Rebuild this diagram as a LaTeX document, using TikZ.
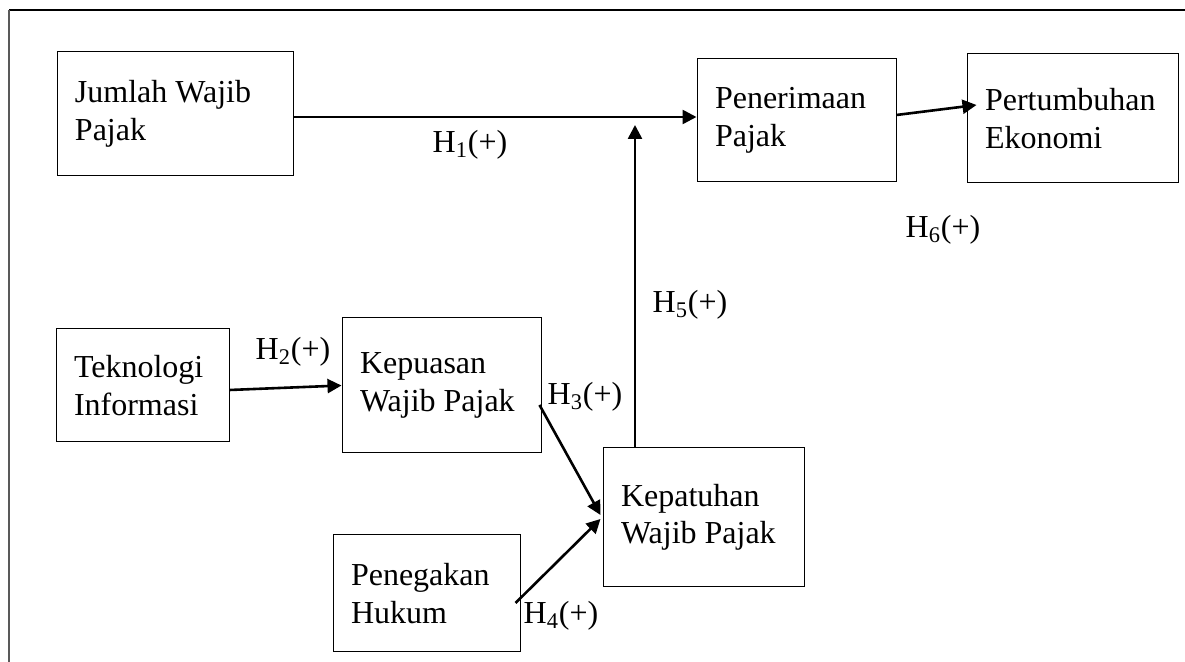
\documentclass[tikz,border=0pt]{standalone}
\usepackage{fontspec}
\setmainfont{Liberation Serif}
\usepackage{tikz}
\usetikzlibrary{calc, positioning, arrows.meta}

\begin{document}
\begin{tikzpicture}[
    x=0.5pt, y=-0.5pt,
    font=\fontsize{16pt}{18.75pt}\selectfont,
    varbox/.style={draw=black, line width=0.5pt, rectangle, align=flush left, inner xsep=9pt, inner ysep=0pt},
    hlabel/.style={inner sep=0pt},
    arrow/.style={-{Triangle[length=7pt, width=7pt]}, line width=1.3pt, draw=black}
]
\useasboundingbox (0,0) rectangle (1185,662);
\draw[line width=0.7pt] (1185,10) -- (9,10);
\draw[line width=1pt, black!65] (9,10) -- (9,662);

\node[varbox, text width=100pt, minimum height=62pt] (jumlah) at (175,114) {Jumlah Wajib\\ Pajak};
\node[varbox, text width=81.5pt, minimum height=61.5pt] (terima) at (796.5,120.5) {Penerimaan\\ Pajak};
\node[varbox, text width=87.5pt, minimum height=64.5pt] (tumbuh) at (1072.5,118.5) {Pertumbuhan\\ Ekonomi};
\node[varbox, text width=68.5pt, minimum height=56.5pt] (tekno) at (142.5,385.5) {Teknologi\\ Informasi};
\node[varbox, text width=81.5pt, minimum height=67.5pt] (puas) at (441.5,385.5) {Kepuasan\\ Wajib Pajak};
\node[varbox, text width=82.5pt, minimum height=69.5pt] (patuh) at (703.5,517.5) {Kepatuhan\\ Wajib Pajak};
\node[varbox, text width=75.5pt, minimum height=58.5pt] (hukum) at (426.5,593.5) {Penegakan\\ Hukum};

\node[hlabel] (h1) at (470,145) {H\textsubscript{1}(+)};
\node[hlabel] (h2) at (293,352) {H\textsubscript{2}(+)};
\node[hlabel] (h3) at (585,397) {H\textsubscript{3}(+)};
\node[hlabel] (h4) at (561,616) {H\textsubscript{4}(+)};
\node[hlabel] (h5) at (690,305) {H\textsubscript{5}(+)};
\node[hlabel] (h6) at (943,230) {H\textsubscript{6}(+)};

\coordinate (h1start) at ([yshift=-1.5pt]jumlah.east);
\coordinate (h5tip) at (635,125);

\draw[arrow] (h1start) -- (h1start -| terima.west);
\draw[arrow] ([xshift=-34.25pt]patuh.north) -- (h5tip);
\draw[arrow] ([yshift=2.75pt]terima.east) -- ([xshift=5pt, yshift=6.75pt]tumbuh.west);
\draw[arrow] ([yshift=-2.25pt]tekno.east) -- (puas.west);
\draw[arrow] ([xshift=-1pt, yshift=-9.75pt]puas.east) -- ([xshift=-1pt, yshift=1.25pt]patuh.west);
\draw[arrow] ([xshift=-2.5pt, yshift=-4.75pt]hukum.east) -- ([xshift=-1pt, yshift=-0.75pt]patuh.west);

\end{tikzpicture}
\end{document}
